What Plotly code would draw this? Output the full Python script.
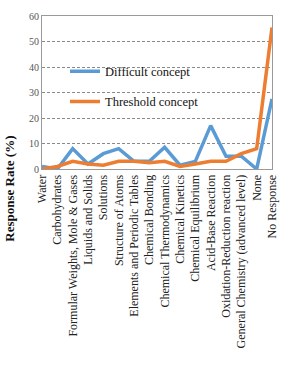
import plotly.graph_objects as go

categories = [
    "Water", "Carbohydrates", "Formular Weights, Mole & Gases", "Liquids and Solids",
    "Solutions", "Structure of Atoms", "Elements and Periodic Tables", "Chemical Bonding",
    "Chemical Thermodynamics", "Chemical Kinetics", "Chemical Equilibrium",
    "Acid-Base Reaction", "Oxidation-Reduction reaction",
    "General Chemistry (advanced level)", "None", "No Response",
]
difficult = [1, 0, 8, 2, 6, 8, 3, 3, 8.5, 1.5, 3, 17, 5, 5, 0, 27.5]
threshold = [0, 1, 3, 2, 1.5, 3, 3, 2.5, 3, 1, 2, 3, 3, 6, 8, 55.5]
y_ticks = [0, 10, 20, 30, 40, 50, 60]

SERIF = "Liberation Serif"

fig = go.Figure()
fig.add_trace(go.Scatter(x=categories, y=difficult, mode="lines", name="Difficult concept",
                         legendgroup="a", line=dict(color="#5B9BD5", width=3.5)))
fig.add_trace(go.Scatter(x=categories, y=threshold, mode="lines", name="Threshold concept",
                         legendgroup="b", line=dict(color="#ED7D31", width=3.5)))

fig.update_layout(
    width=281, height=372,
    margin=dict(l=42, r=2, t=16, b=203),
    paper_bgcolor="white", plot_bgcolor="white",
    font=dict(family=SERIF, color="#222222"),
    showlegend=True,
    legend=dict(x=0.10, y=0.735, xanchor="left", yanchor="top",
                bgcolor="rgba(0,0,0,0)", font=dict(size=12.5, family=SERIF, color="#111111"),
                tracegroupgap=11, itemwidth=30),
    xaxis=dict(type="category", tickangle=-90, tickfont=dict(size=12, family=SERIF, color="#222222"),
               showline=True, mirror=True, linecolor="#9a9a9a", linewidth=1,
               showgrid=False, ticks="", fixedrange=True),
    yaxis=dict(range=[0, 60], tickvals=y_ticks, tickfont=dict(size=10, family=SERIF, color="#555555"),
               showline=True, mirror=True, linecolor="#9a9a9a", linewidth=1,
               showgrid=True, gridcolor="#8a8a8a", griddash="3px,2px", gridwidth=1,
               zeroline=False, ticks="", fixedrange=True),
    annotations=[dict(text="<b>Response Rate (%)</b>", xref="paper", yref="paper",
                      x=-0.14, y=-0.13, xanchor="center", yanchor="middle",
                      textangle=-90, showarrow=False,
                      font=dict(size=13, family=SERIF, color="#111111"))],
)

fig.write_html("out.html")
